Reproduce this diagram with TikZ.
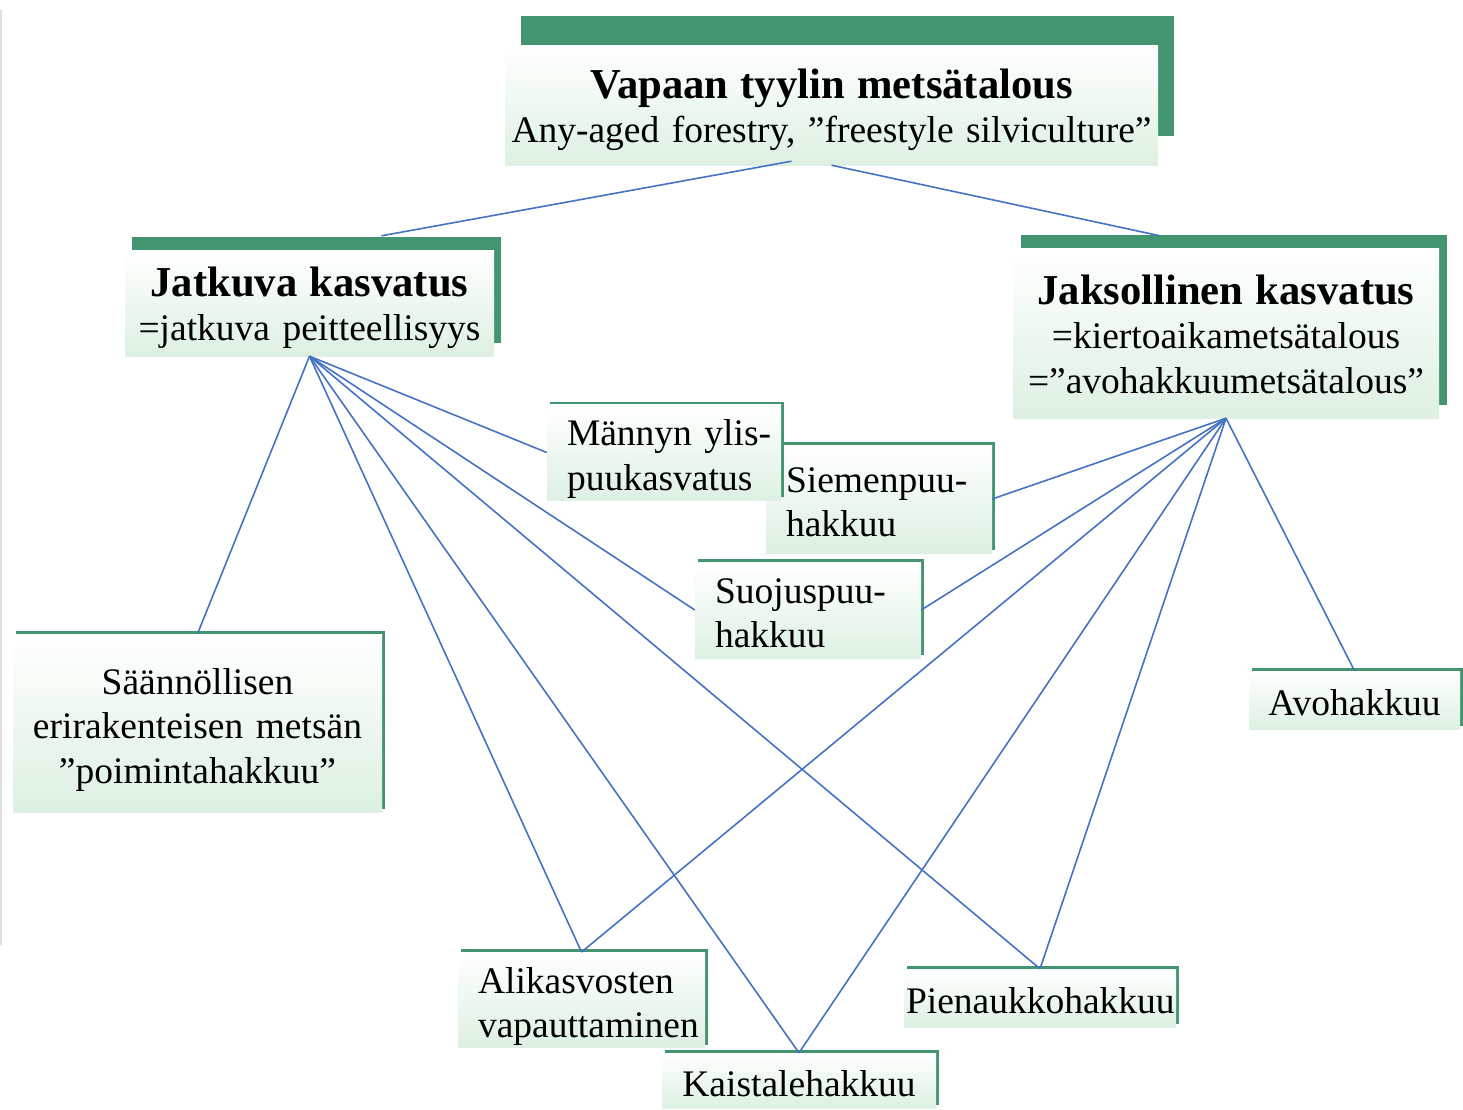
\documentclass[tikz,border=0pt]{standalone}
\usepackage{fontspec}
\setmainfont{Liberation Serif}
\usetikzlibrary{shadows}
\definecolor{vihrea}{RGB}{67,148,112}
\definecolor{vaalea}{RGB}{221,240,226}
\definecolor{sininen}{RGB}{68,114,196}
\tikzset{
    boksi/.style 2 args={rectangle,top color=white,bottom color=vaalea,inner ysep=0pt,
        minimum width=#1,minimum height=#2,
        font=\fontsize{37.5}{44.5}\selectfont,
        execute at begin node={\hyphenpenalty=10000\exhyphenpenalty=10000\rule{0pt}{41pt}},
        execute at end node={\rule[-10pt]{0pt}{10pt}}},
    kehys/.style 2 args={drop shadow={shadow xshift=#1,shadow yshift=#2,opacity=1,fill=vihrea}},
    vasen/.style={align=left,text width=#1,inner xsep=20pt},
    keski/.style={align=center,text width=#1,inner xsep=2pt},
    yhteys/.style={draw=sininen,line width=1.6pt}
}
\newcommand{\otsikko}[1]{{\fontsize{42.6}{45}\selectfont\bfseries #1}}
\begin{document}
\begin{tikzpicture}[x=1pt,y=-1pt]
    \useasboundingbox (0,0) rectangle (1463,1109);
    \draw[gray!25,line width=1.5pt] (1,10)--(1,945);
    % ylataso
    \node[boksi={653pt}{120pt},kehys={16pt}{29pt},keski=649pt] (ylin) at (831.5,105)
        {\otsikko{Vapaan tyylin metsätalous}\\Any-aged forestry, ”freestyle silviculture”};
    \node[boksi={369pt}{106pt},kehys={7pt}{13pt},keski=365pt] (jatkuva) at (309.5,303)
        {\otsikko{Jatkuva kasvatus}\\=jatkuva peitteellisyys};
    \node[boksi={426pt}{170pt},kehys={8pt}{13pt},keski=422pt] (jaksollinen) at (1226,333)
        {\otsikko{Jaksollinen kasvatus}\\=kiertoaikametsätalous\\=”avohakkuumetsätalous”};
    % hakkuutavat
    \node[boksi={226pt}{108pt},kehys={3pt}{3pt},vasen=186pt] (siemen) at (879,499) {Siemenpuu-\\hakkuu};
    \node[boksi={234pt}{95pt},kehys={3pt}{3pt},vasen=194pt] (mannyn) at (664,452.5) {Männyn~ylis-\\puukasvatus};
    \node[boksi={226pt}{96pt},kehys={3pt}{3pt},vasen=186pt] (suojus) at (808,610) {Suojuspuu-\\hakkuu};
    \node[boksi={369pt}{178pt},kehys={3pt}{3pt},keski=365pt] (saannol) at (197.5,723)
        {Säännöllisen\\erirakenteisen metsän\\”poimintahakkuu”};
    \node[boksi={211pt}{58pt},kehys={3pt}{3pt},keski=207pt] (avo) at (1354.5,700) {Avohakkuu};
    \node[boksi={247pt}{94pt},kehys={3pt}{3pt},vasen=207pt] (alikas) at (581.5,1000) {Alikasvosten\\vapauttaminen};
    \node[boksi={272pt}{58pt},kehys={3pt}{3pt},keski=268pt] (pienauk) at (1040,998) {Pienaukkohakkuu};
    \node[boksi={274pt}{55pt},kehys={3pt}{3pt},keski=270pt] (kaistale) at (799,1080.5) {Kaistalehakkuu};
    % yhteydet
    \draw[yhteys] ([shift={(-40,-4)}]ylin.south)--([shift={(72,-14)}]jatkuva.north);
    \draw[yhteys] (ylin.south)--([shift={(-66,-12)}]jaksollinen.north);
    \foreach \kohde in {saannol.north,mannyn.west,suojus.west,alikas.north,kaistale.north,pienauk.north}{
        \draw[yhteys] (jatkuva.south)--(\kohde);
    }
    \foreach \kohde in {siemen.east,suojus.east,alikas.north,kaistale.north,pienauk.north,avo.north}{
        \draw[yhteys] (jaksollinen.south)--(\kohde);
    }
\end{tikzpicture}
\end{document}
